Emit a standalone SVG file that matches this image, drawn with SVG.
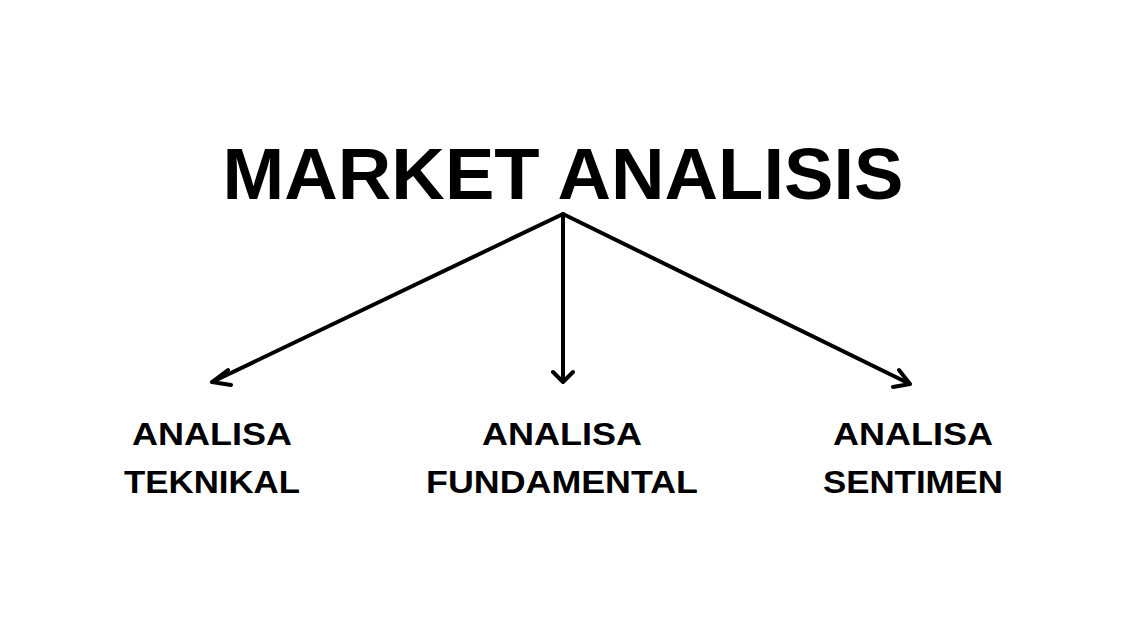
<svg xmlns="http://www.w3.org/2000/svg" width="1125" height="633" viewBox="0 0 1125 633">
<defs><style>
.t{font-family:"Liberation Sans",Arial,sans-serif;font-weight:bold;fill:#000;text-anchor:middle}
.s{font-size:31px}
.c{stroke:#000;stroke-width:4;fill:none;stroke-linecap:round;stroke-linejoin:round}
</style></defs>
<rect width="1125" height="633" fill="#fff"/>
<g id="root"><text class="t" x="563" y="199" font-size="72" textLength="681" lengthAdjust="spacingAndGlyphs">MARKET ANALISIS</text></g>
<g id="connectors" class="c">
<path d="M563 214 L212 382 M212 382 L228 370 M212 382 L231 385"/>
<path d="M563 214 L563 382 M553 372 L563 382 L573 372"/>
<path d="M563 214 L910 384 M910 384 L893 387 M910 384 L899 370"/>
</g>
<g id="n1"><text class="t s" x="212" y="445" textLength="160" lengthAdjust="spacingAndGlyphs">ANALISA</text><text class="t s" x="212" y="493" textLength="176" lengthAdjust="spacingAndGlyphs">TEKNIKAL</text></g>
<g id="n2"><text class="t s" x="562" y="445" textLength="160" lengthAdjust="spacingAndGlyphs">ANALISA</text><text class="t s" x="562" y="493" textLength="272" lengthAdjust="spacingAndGlyphs">FUNDAMENTAL</text></g>
<g id="n3"><text class="t s" x="913" y="445" textLength="160" lengthAdjust="spacingAndGlyphs">ANALISA</text><text class="t s" x="913" y="493" textLength="180" lengthAdjust="spacingAndGlyphs">SENTIMEN</text></g>
</svg>
